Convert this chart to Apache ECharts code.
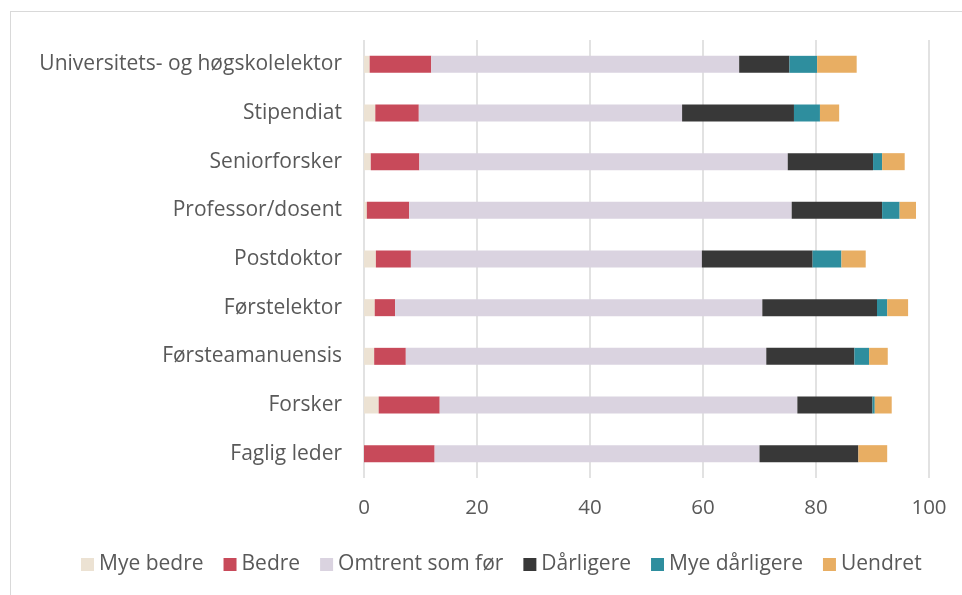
<!DOCTYPE html>
<html>
<head>
<meta charset="utf-8">
<script src="https://cdn.jsdelivr.net/npm/echarts@6/dist/echarts.min.js"></script>
<style>
  html, body { margin: 0; padding: 0; background: #fff; overflow: hidden; }
  #frame { position: absolute; left: 10px; top: 11px; width: 1000px; height: 1000px; border: 1px solid #d9d9d9; box-sizing: border-box; }
  #chart { position: absolute; left: 0; top: 0; width: 962px; height: 595px; }
</style>
</head>
<body>
<div id="frame"></div>
<div id="chart"></div>
<script>
const categories = [
  "Faglig leder", "Forsker", "Førsteamanuensis", "Førstelektor", "Postdoktor",
  "Professor/dosent", "Seniorforsker", "Stipendiat", "Universitets- og høgskolelektor"
];
const seriesNames = ["Mye bedre", "Bedre", "Omtrent som før", "Dårligere", "Mye dårligere", "Uendret"];

// values per category, bottom to top
const myeBedre     = [0.0, 2.6, 1.8, 1.9, 2.1, 0.5, 1.2, 2.0, 1.0];
const bedre        = [12.5, 10.8, 5.6, 3.6, 6.2, 7.5, 8.6, 7.7, 10.9];
const omtrent      = [57.5, 63.3, 63.8, 65.0, 51.5, 67.7, 65.2, 46.6, 54.5];
const darligere    = [17.5, 13.3, 15.6, 20.3, 19.6, 16.0, 15.1, 19.8, 8.9];
const myeDarligere = [0.0, 0.4, 2.6, 1.8, 5.1, 3.1, 1.6, 4.6, 4.9];
const uendret      = [5.1, 3.0, 3.3, 3.7, 4.3, 2.9, 4.0, 3.4, 7.0];

const xTicks = [0, 20, 40, 60, 80, 100];

const colors = ["#ece2d3", "#c84a5a", "#dad3e0", "#383838", "#2e8e9e", "#e8ae63"];
const seriesData = [myeBedre, bedre, omtrent, darligere, myeDarligere, uendret];

const font = '"Open Sans", "Noto Sans", sans-serif';
const textColor = "#595959";

const chart = echarts.init(document.getElementById("chart"), null, { renderer: "canvas" });
chart.setOption({
  animation: false,
  backgroundColor: "transparent",
  grid: { left: 364, right: 33, top: 40, bottom: 117, containLabel: false },
  legend: {
    bottom: 15,
    left: 76,
    itemWidth: 13,
    itemHeight: 13,
    itemGap: 20,
    icon: "rect",
    textStyle: { color: textColor, fontFamily: font, fontSize: 21 },
    data: seriesNames
  },
  xAxis: {
    type: "value",
    min: xTicks[0],
    max: xTicks[xTicks.length - 1],
    interval: 20,
    axisLine: { show: false },
    axisTick: { show: false },
    axisLabel: { color: textColor, fontFamily: font, fontSize: 20.5, margin: 20 },
    splitLine: { lineStyle: { color: "#d9d9d9", width: 1.5 } }
  },
  yAxis: {
    type: "category",
    data: categories,
    axisLine: { show: false },
    axisTick: { show: false },
    axisLabel: { color: textColor, fontFamily: font, fontSize: 21, margin: 22 }
  },
  series: seriesNames.map((name, i) => ({
    name,
    type: "bar",
    stack: "total",
    barWidth: 17,
    itemStyle: { color: colors[i] },
    data: seriesData[i]
  }))
});
</script>
</body>
</html>
